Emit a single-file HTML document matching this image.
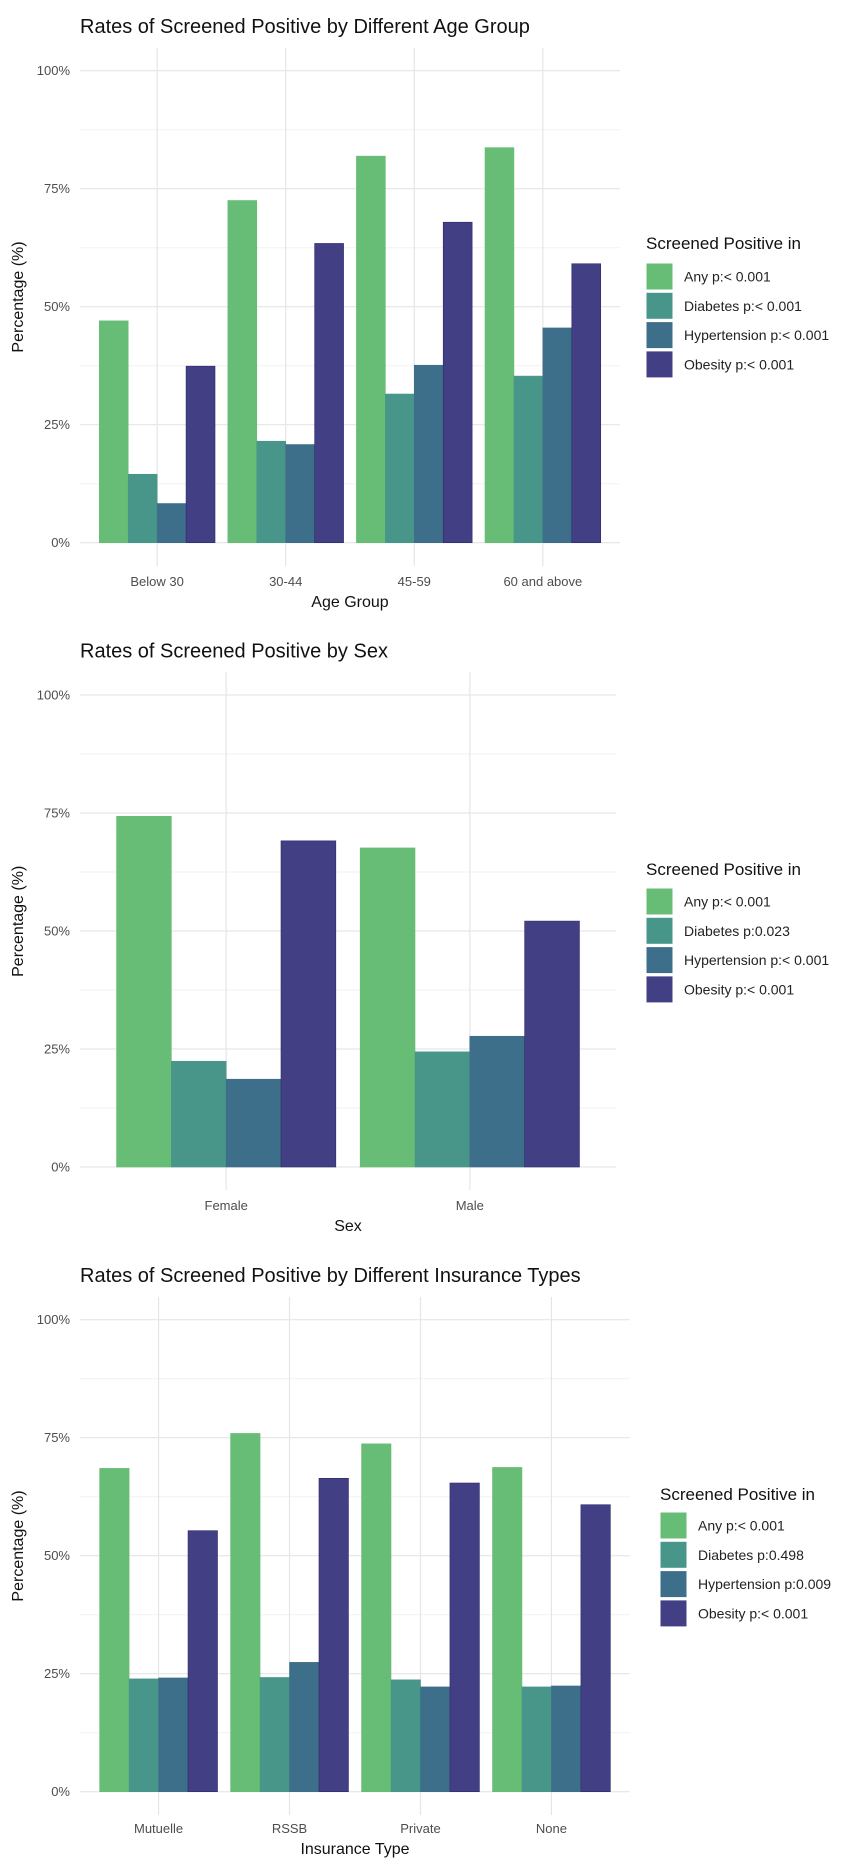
<!DOCTYPE html>
<html><head><meta charset="utf-8"><style>
body{margin:0;background:#fff;}
svg{display:block;font-family:"Liberation Sans",Arial,sans-serif;}
</style></head><body>
<svg id="chart" width="850" height="1865" viewBox="0 0 850 1865" xmlns="http://www.w3.org/2000/svg"></svg>
<script>
const seriesNames = ["Any","Diabetes","Hypertension","Obesity"];
const seriesColors = ["#68bd76","#48968a","#3e6f8a","#423f85"];
const yTicks = [0,25,50,75,100];
const yTickLabels = ["0%","25%","50%","75%","100%"];

const ageCategories = ["Below 30","30-44","45-59","60 and above"];
const ageAny = [47.0,72.5,81.9,83.7];
const ageDiabetes = [14.5,21.5,31.5,35.3];
const ageHypertension = [8.3,20.8,37.6,45.5];
const ageObesity = [37.4,63.4,67.9,59.1];
const ageLegend = ["Any p:< 0.001","Diabetes p:< 0.001","Hypertension p:< 0.001","Obesity p:< 0.001"];

const sexCategories = ["Female","Male"];
const sexAny = [74.3,67.6];
const sexDiabetes = [22.4,24.4];
const sexHypertension = [18.6,27.7];
const sexObesity = [69.1,52.1];
const sexLegend = ["Any p:< 0.001","Diabetes p:0.023","Hypertension p:< 0.001","Obesity p:< 0.001"];

const insCategories = ["Mutuelle","RSSB","Private","None"];
const insAny = [68.5,75.9,73.7,68.7];
const insDiabetes = [23.9,24.2,23.7,22.2];
const insHypertension = [24.1,27.4,22.2,22.4];
const insObesity = [55.3,66.4,65.4,60.8];
const insLegend = ["Any p:< 0.001","Diabetes p:0.498","Hypertension p:0.009","Obesity p:< 0.001"];

const NS="http://www.w3.org/2000/svg";
const svg=document.getElementById('chart');
function mk(tag,attrs,parent,text){
  const e=document.createElementNS(NS,tag);
  for(const k in attrs) e.setAttribute(k,attrs[k]);
  if(text!==undefined) e.textContent=text;
  (parent||svg).appendChild(e);
  return e;
}

function panel(cfg){
  const g=mk('g',{});
  
  
  const off=cfg.off;
  const y0=542.7+off, y100=70.7+off;
  const yScale=v=>y0-(y0-y100)*v/100;
  const left=80,right=cfg.right;
  const n=cfg.cats.length;
  const band=(right-left)/(n+0.2);
  const xCenter=i=>left+band*(0.6+i);
  const top=48+off,bottom=566+off;
  // minor gridlines
  for(let i=0;i<yTicks.length-1;i++){
    const v=(yTicks[i]+yTicks[i+1])/2;
    const l=mk('line',{x1:left,x2:right,y1:yScale(v),y2:yScale(v),stroke:'#f2f2f2','stroke-width':1},g);
    
    
  }
  yTicks.forEach((v,i)=>{
    const l=mk('line',{x1:left,x2:right,y1:yScale(v),y2:yScale(v),stroke:'#e6e6e6','stroke-width':1.2},g);
    
    
    const t=mk('text',{x:70,y:yScale(v)+4.5,'text-anchor':'end','font-size':13,fill:'#4d4d4d'},g,yTickLabels[i]);
    
    
  });
  cfg.cats.forEach((c,i)=>{
    const l=mk('line',{x1:xCenter(i),x2:xCenter(i),y1:top,y2:bottom,stroke:'#e6e6e6','stroke-width':1.2},g);
    
    
    const t=mk('text',{x:xCenter(i),y:cfg.tickY,'text-anchor':'middle','font-size':13,fill:'#4d4d4d'},g,c);
    
    
  });
  const bw=band*0.9/4;
  cfg.series.forEach((arr,s)=>{
    arr.forEach((v,i)=>{
      const x=xCenter(i)-band*0.45+s*bw;
      const r=mk('rect',{x:x,y:yScale(v),width:bw,height:y0-yScale(v),fill:seriesColors[s],stroke:s===3?'#2c2a6a':seriesColors[s],'stroke-width':0.6},g);
      
      
    });
  });
  const tt=mk('text',{x:80,y:33+off,'font-size':20,fill:'#111'},g,cfg.title);
  
  
  const xt=mk('text',{x:(left+right)/2,y:cfg.tickY+21,'text-anchor':'middle','font-size':16,fill:'#111'},g,cfg.xTitle);
  
  
  const ym=(top+bottom)/2-10;
  const yt=mk('text',{x:0,y:0,'text-anchor':'middle','font-size':16,fill:'#111',transform:'translate(23,'+ym+') rotate(-90)'},g,'Percentage (%)');
  
  
  // legend
  const lg=mk('g',{},g);
  
  
  const lt=mk('text',{x:cfg.lx,y:cfg.ltitle,'font-size':17,fill:'#111'},lg,'Screened Positive in');
  
  
  cfg.legend.forEach((lab,s)=>{
    const ky=cfg.lkey+s*29.3;
    const k=mk('rect',{x:cfg.lx,y:ky,width:27,height:27,fill:seriesColors[s],stroke:'#fff','stroke-width':1},lg);
    
    
    const t=mk('text',{x:cfg.lx+38,y:ky+18.5,'font-size':14,fill:'#222'},lg,lab);
    
    
  });
}

panel({name:'age-group-chart',off:0,right:620,cats:ageCategories,series:[ageAny,ageDiabetes,ageHypertension,ageObesity],
  title:'Rates of Screened Positive by Different Age Group',xTitle:'Age Group',tickY:586,legend:ageLegend,lx:646,ltitle:249,lkey:263});
panel({name:'sex-chart',off:624.3,right:616,cats:sexCategories,series:[sexAny,sexDiabetes,sexHypertension,sexObesity],
  title:'Rates of Screened Positive by Sex',xTitle:'Sex',tickY:1210,legend:sexLegend,lx:646,ltitle:875,lkey:888});
panel({name:'insurance-type-chart',off:1249,right:630,cats:insCategories,series:[insAny,insDiabetes,insHypertension,insObesity],
  title:'Rates of Screened Positive by Different Insurance Types',xTitle:'Insurance Type',tickY:1833,legend:insLegend,lx:660,ltitle:1500,lkey:1512});
</script>
</body></html>
